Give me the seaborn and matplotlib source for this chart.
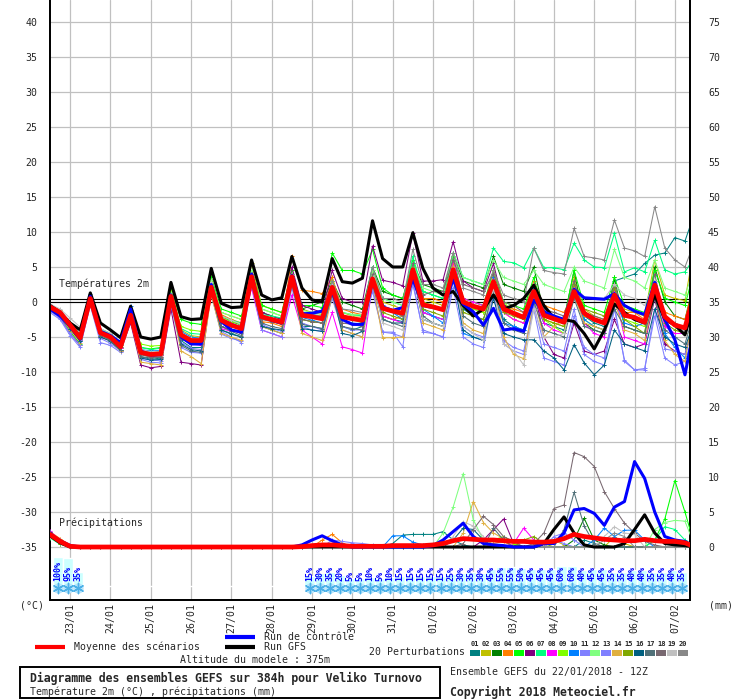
import numpy as np
import pandas as pd
import matplotlib
matplotlib.use('Agg')
import matplotlib.pyplot as plt
import seaborn as sns
from matplotlib.patches import Rectangle

# échéances toutes les 6h, de 0 à 384h (run du 22/01/2018 12Z)
heures = list(range(0, 385, 6))
jours = ['23/01', '24/01', '25/01', '26/01', '27/01', '28/01', '29/01', '30/01',
         '31/01', '01/02', '02/02', '03/02', '04/02', '05/02', '06/02', '07/02']

# --- températures 2m (°C) ---
temp_moy = [-0.7,-1.5,-3.3,-5.1, 0.5,-4.4,-5.0,-6.4, -1.9,-7.2,-7.5,-7.4, 0.8,-4.7,-5.5,-5.5,
            2.1,-2.6,-3.3,-3.8, 3.6,-2.1,-2.5,-2.9, 3.6,-1.9,-2.1,-2.4, 2.1,-2.1,-2.4,-2.6,
            3.3,-0.9,-1.3,-1.6, 4.6,-0.4,-0.7,-1.1, 4.6,0.0,-0.6,-1.0, 2.9,-1.0,-1.6,-2.2,
            1.5,-1.9,-2.4,-2.9, 1.5,-1.6,-2.5,-3.0, 1.0,-1.9,-2.2,-2.9, 2.4,-2.1,-3.3,-3.7, 1.7]
temp_ctrl = [-1.0,-2.0,-3.5,-5.3, 0.8,-4.2,-4.8,-5.8, -1.0,-7.0,-7.6,-7.5, 1.0,-5.0,-6.0,-6.0,
             2.5,-2.8,-4.0,-4.3, 4.0,-2.0,-2.6,-3.0, 3.8,-1.7,-1.6,-1.3, 1.5,-2.5,-3.2,-3.2,
             3.0,-0.7,-1.2,-0.8, 3.3,-0.5,-0.8,-1.0, 3.3,-0.3,-1.4,-3.3, -0.9,-4.0,-3.8,-4.2,
             0.3,-1.4,-2.0,-2.5, 1.8,0.6,0.5,0.4, 1.2,-0.5,-1.3,-1.8, 2.8,-2.5,-5.4,-10.4, -3.0]
temp_gfs = [-0.5,-1.5,-3.0,-4.0, 1.3,-3.0,-4.0,-5.1, -0.6,-5.0,-5.3,-5.0, 2.8,-2.1,-2.5,-2.4,
            4.8,-0.2,-0.8,-0.7, 6.0,1.0,0.3,0.6, 6.5,2.0,0.3,0.0, 6.2,2.9,2.7,3.4,
            11.6,6.2,5.0,5.0, 9.9,4.8,2.0,1.0, 1.5,-0.5,-2.0,-1.0, 1.0,-1.0,-0.5,0.5,
            2.4,-0.5,-2.3,-2.5, -2.8,-4.5,-6.7,-4.0, -0.3,-1.5,-2.5,-3.0, 1.0,-2.5,-3.3,-4.7, 0.3]

temp_p01 = [-0.9,-1.9,-3.8,-5.6, 0.8,-4.9,-5.5,-6.9, -1.5,-7.8,-8.2,-8.0, 0.5,-5.5,-6.5,-6.5, 1.5,-4.0,-4.5,-5.0, 3.0,-3.5,-4.0,-4.5, 3.0,-3.5,-3.5,-3.8, 1.5,-3.5,-4.0,-3.5, 2.5,-2.0,-2.5,-2.8, 4.0,-1.5,-2.0,-2.5, 4.0,-1.0,-2.0,-2.5, 2.0,-2.5,-3.5,-4.0, 0.5,-3.0,-3.5,-4.0, 1.0,-2.0,-3.0,-3.5, 3.0,3.5,4.0,5.5, 6.7,7.0,9.2,8.7, 12.9]
temp_p02 = [-0.5,-1.2,-3.0,-4.8, 0.2,-4.0,-4.6,-6.0, -2.5,-6.8,-7.2,-7.0, 1.5,-4.0,-4.8,-5.0, 3.0,-1.5,-2.0,-2.5, 5.5,-0.5,-1.0,-1.5, 4.5,-1.0,-1.5,-1.8, 3.5,-1.5,-2.0,-2.0, 4.5,0.0,-0.5,-1.0, 5.5,0.5,0.0,-0.5, 5.0,0.5,0.0,-0.5, 3.5,-1.5,-2.5,-3.0, 2.0,-2.5,-3.0,-3.5, 3.5,-1.0,-2.0,-2.5, 2.0,-1.0,-1.5,-2.0, 6.0,1.0,0.5,0.2, 8.5]
temp_p03 = [-0.8,-1.8,-3.6,-5.4, 0.6,-4.6,-5.2,-6.6, -1.6,-7.5,-7.8,-7.6, 1.0,-5.0,-5.8,-5.8, 2.5,-2.0,-2.8,-3.3, 4.0,-1.5,-2.0,-2.5, 4.0,-1.0,-0.5,0.0, 3.0,0.0,-0.5,-1.0, 5.0,1.5,1.0,0.5, 5.5,2.5,2.0,1.5, 7.0,3.0,2.5,2.0, 6.5,2.5,2.0,1.5, 5.0,-1.5,-2.0,-2.5, 4.5,-3.0,-4.0,-4.5, 3.5,-3.5,-4.0,-4.5, 5.0,0.0,-2.0,-2.5, 3.5]
temp_p04 = [-0.4,-1.2,-3.2,-5.0, 0.4,-4.3,-4.9,-6.2, -1.7,-7.0,-7.3,-7.2, 1.2,-4.5,-5.2,-5.2, 3.5,-1.8,-2.5,-3.0, 4.5,-2.8,-3.0,-3.5, 6.6,1.7,1.5,1.2, 3.5,-1.0,-1.5,-1.8, 3.5,-2.0,-2.5,-2.0, 4.5,0.5,0.5,0.0, 5.5,0.5,-1.0,-1.5, 3.5,-0.5,-1.0,-1.5, 3.0,-0.5,-1.0,-1.5, 1.5,-2.0,-2.5,-3.0, 0.5,-1.5,-1.5,-2.5, 2.0,-1.5,-2.0,-2.5, 3.0]
temp_p05 = [-1.0,-2.0,-4.2,-6.0, 0.6,-4.0,-4.6,-6.0, -1.6,-6.5,-6.7,-6.5, 1.8,-2.5,-3.0,-3.2, 3.5,-1.0,-1.5,-2.0, 4.5,-0.5,-1.0,-1.5, 4.5,-0.5,-0.5,-0.8, 7.0,4.5,4.5,4.0, 7.5,2.0,1.0,0.5, 6.0,1.5,1.0,0.5, 6.5,0.5,0.0,-0.5, 4.5,0.0,-0.5,-1.0, 3.5,-1.5,-2.0,-2.5, 4.5,-0.5,-1.0,-1.5, 3.5,-0.5,-1.0,-1.5, 4.5,0.5,0.0,-0.5, 5.0]
temp_p06 = [-1.2,-2.2,-4.5,-6.2, 0.0,-5.0,-5.5,-7.0, -3.0,-9.0,-9.4,-9.2, -1.0,-8.6,-8.8,-9.0, 1.5,-3.5,-4.0,-4.5, 4.0,-1.5,-2.0,-2.5, 5.0,-0.5,-1.0,-1.5, 4.5,0.5,0.0,0.0, 8.0,3.1,2.8,2.3, 9.8,3.0,3.0,3.2, 8.6,3.0,2.0,1.5, 5.5,-0.5,-1.5,-2.5, 2.0,-5.0,-7.5,-8.0, -3.0,-7.0,-7.5,-7.0, -2.5,-6.0,-6.5,-6.0, 0.5,-6.0,-7.0,-7.5, -2.0]
temp_p07 = [-0.6,-1.4,-3.0,-4.6, 0.8,-3.8,-4.5,-5.8, -1.5,-6.5,-6.8,-6.6, 1.5,-3.8,-4.5,-4.6, 3.0,-2.0,-2.6,-3.0, 4.0,-1.8,-2.0,-2.3, 4.0,-1.5,-1.8,-2.0, 3.0,-1.5,-1.8,-2.0, 5.0,0.5,0.0,-0.5, 6.5,1.5,1.0,0.5, 7.0,3.5,3.0,2.5, 7.7,5.8,5.6,4.9, 7.7,4.9,4.9,4.6, 8.4,6.0,5.0,4.9, 9.8,4.3,4.9,4.3, 8.8,4.6,4.0,4.3, 6.5]
temp_p08 = [-0.9,-1.7,-3.6,-5.4, 0.4,-4.6,-5.2,-6.6, -2.0,-7.4,-7.7,-7.6, 0.5,-5.2,-6.0,-6.2, 1.5,-3.8,-4.2,-4.2, 2.0,-4.0,-4.5,-5.0, 1.0,-4.0,-5.0,-6.0, -1.5,-6.4,-6.8,-7.3, 2.5,-2.0,-2.5,-3.0, 4.0,-1.5,-2.0,-2.5, 6.0,0.5,0.0,-0.5, 3.5,-1.5,-2.5,-3.0, 1.0,-3.0,-4.0,-4.5, 2.0,-3.0,-4.5,-5.0, 1.5,-5.0,-5.5,-6.0, 2.0,-3.5,-4.5,-4.5, 2.5]
temp_p09 = [-0.5,-1.3,-3.2,-4.9, 0.6,-4.2,-4.8,-6.2, -1.8,-6.0,-6.3,-6.2, 1.5,-3.5,-4.0,-4.2, 3.0,-2.2,-2.8,-3.2, 4.5,-1.0,-1.5,-2.0, 4.0,-2.5,-2.8,-3.0, 2.5,-2.0,-2.5,-3.0, 4.0,-1.0,-1.5,-2.0, 5.0,0.0,-0.5,-1.0, 5.0,-0.5,-1.0,-1.5, 4.5,0.0,-1.5,-2.5, 2.0,-2.5,-3.5,-4.5, 3.0,-2.5,-3.5,-4.0, 2.5,-2.5,-3.0,-3.5, 3.0,-2.0,-3.5,-4.5, 1.5]
temp_p10 = [-0.6,-1.4,-3.1,-4.8, 1.2,-4.0,-4.6,-5.8, -0.6,-6.8,-7.0,-6.9, 1.0,-4.2,-5.0,-5.2, 2.5,-2.4,-3.0,-3.6, 3.5,-2.3,-2.8,-3.2, 3.5,-2.2,-2.6,-3.0, 2.0,-2.6,-3.0,-3.2, 3.5,-0.5,-1.5,-2.5, 4.0,-1.0,-2.0,-3.0, 4.0,-4.5,-5.0,-5.5, 3.5,-3.0,-3.5,-4.0, 2.0,-1.0,-2.0,-3.0, 1.0,-2.5,-3.5,-4.0, 0.5,-3.0,-3.5,-3.0, 1.5,-4.5,-6.5,-8.0, -1.5]
temp_p11 = [-1.3,-2.3,-4.5,-6.2, -0.5,-5.8,-6.2,-7.2, -2.5,-8.0,-8.3,-8.4, -0.5,-6.5,-7.2,-7.3, 1.0,-4.2,-5.0,-5.8, 2.5,-4.0,-4.5,-5.0, 2.0,-3.5,-4.0,-4.2, 0.5,-4.0,-4.5,-5.0, 2.0,-4.3,-4.3,-6.4, 3.0,-4.3,-4.5,-5.0, 2.0,-5.0,-6.0,-6.5, 1.0,-6.0,-7.0,-7.5, -1.0,-8.0,-8.5,-9.0, -2.0,-6.5,-7.5,-8.0, -0.5,-8.5,-9.7,-9.5, -2.0,-8.0,-9.0,-8.5, -4.0]
temp_p12 = [-0.7,-1.6,-3.5,-5.3, 0.7,-4.0,-4.8,-6.0, -1.2,-7.0,-7.4,-7.3, 1.3,-4.5,-5.2,-5.3, 3.2,-1.5,-2.0,-2.5, 4.5,-1.0,-1.5,-2.0, 4.0,-1.2,-1.5,-1.6, 3.0,-1.5,-1.8,-1.8, 4.5,0.5,0.0,-0.5, 5.5,2.0,1.5,1.0, 7.0,3.5,3.0,2.5, 6.0,3.5,3.0,2.5, 4.5,2.5,2.0,1.5, 5.0,3.0,2.5,2.0, 7.5,3.5,3.0,2.0, 6.0,2.0,1.5,1.0, 5.0]
temp_p13 = [-1.5,-2.5,-4.8,-6.5, -0.3,-5.2,-5.9,-7.0, -2.3,-8.2,-8.6,-8.7, 0.0,-5.8,-6.6,-6.8, 1.2,-4.6,-5.2,-5.6, 2.8,-3.2,-3.8,-4.2, 2.5,-3.0,-3.5,-4.0, 1.0,-3.5,-4.0,-4.0, 1.5,-4.3,-4.5,-5.0, 2.5,-4.0,-4.5,-5.0, 3.0,-3.5,-4.5,-5.0, 1.5,-5.5,-6.5,-7.0, -0.5,-6.0,-6.5,-7.0, -1.0,-7.5,-8.5,-9.0, -1.0,-8.3,-9.7,-9.7, -1.0,-6.7,-7.0,-7.5, -3.0]
temp_p14 = [-1.1,-2.0,-4.0,-5.8, -0.2,-4.8,-5.6,-7.0, -2.5,-8.6,-8.8,-9.0, 0.3,-7.0,-7.8,-8.8, 1.0,-4.5,-5.0,-5.5, 3.0,-3.5,-4.0,-4.5, 3.0,-4.5,-5.0,-5.5, 1.0,-4.0,-4.5,-5.0, 3.0,-5.1,-5.1,-5.0, 4.5,-3.0,-3.5,-4.0, 5.0,-3.0,-4.0,-4.5, 3.0,-5.0,-7.5,-8.1, 0.5,-5.0,-3.5,-2.5, 1.0,-3.0,-3.5,-4.0, 0.0,-4.0,-4.5,-5.5, 1.0,-5.5,-7.5,-8.5, 0.0]
temp_p15 = [-0.8,-1.6,-3.4,-5.2, 0.4,-4.4,-5.0,-6.4, -2.0,-7.3,-7.6,-7.5, 0.6,-4.8,-5.6,-5.6, 2.0,-2.9,-3.5,-4.0, 3.5,-2.0,-2.5,-3.0, 3.5,-2.5,-2.8,-3.0, 2.0,-2.3,-2.5,-2.8, 3.5,-1.5,-2.0,-2.5, 4.5,-1.0,-1.5,-2.0, 4.5,-1.5,-2.0,-2.5, 2.5,-1.5,-2.0,-2.5, 1.5,-2.5,-3.0,-3.5, 2.5,-1.0,-1.5,-2.0, 2.0,-2.5,-3.5,-4.5, 3.0,-3.0,-4.0,-4.5, 2.0]
temp_p16 = [-1.0,-1.9,-3.8,-5.6, 0.3,-5.0,-5.6,-6.9, -2.2,-8.0,-8.3,-8.2, 0.2,-6.0,-6.8,-7.0, 1.5,-4.0,-4.6,-5.0, 3.0,-3.5,-3.8,-4.0, 3.0,-3.8,-4.0,-4.2, 1.5,-4.5,-4.8,-4.2, 3.0,-2.5,-3.0,-3.0, 4.0,-2.5,-3.0,-3.5, 3.5,-4.0,-5.0,-5.5, 0.5,-4.5,-5.0,-5.4, -5.4,-7.0,-8.0,-9.7, -6.1,-8.7,-10.4,-9.0, -4.0,-6.0,-6.5,-7.0, -1.0,-5.0,-6.0,-6.5, -2.5]
temp_p17 = [-0.8,-1.7,-3.5,-5.3, 0.2,-4.8,-5.4,-6.8, -2.2,-7.8,-8.0,-7.9, 0.0,-6.2,-7.0,-7.2, 1.5,-3.5,-4.2,-4.8, 2.5,-3.0,-3.5,-3.8, 2.5,-3.2,-3.5,-3.8, 1.0,-3.5,-3.8,-4.0, 2.5,-2.5,-3.0,-3.5, 3.5,-2.0,-3.0,-3.5, 3.5,-2.0,-3.0,-3.5, 1.5,-3.0,-4.0,-4.5, 0.0,-4.0,-4.5,-5.0, 0.5,-3.5,-4.0,-4.5, -1.0,-3.5,-4.0,-4.5, 0.5,-4.0,-5.0,-6.0, -1.0]
temp_p18 = [-0.6,-1.5,-3.4,-5.1, 0.5,-4.5,-5.1,-6.5, -1.9,-7.5,-7.9,-7.8, 0.7,-5.2,-6.0,-6.0, 2.5,-2.8,-3.4,-3.8, 4.0,-2.5,-2.8,-3.2, 3.5,-2.5,-2.8,-3.0, 2.5,-3.0,-3.2,-3.5, 4.0,-1.0,-1.5,-2.0, 5.5,1.0,1.5,1.5, 6.0,2.5,2.0,1.5, 4.0,0.0,-0.5,-1.5, 2.5,-1.0,-1.5,-2.0, 3.0,-1.5,-2.0,-2.5, 2.5,-2.0,-2.5,-3.0, 4.0,-2.5,-3.0,-4.0, 3.0]
temp_p19 = [-0.3,-1.0,-2.3,-3.6, 0.9,-3.8,-4.5,-5.8, -1.2,-6.8,-7.1,-7.0, 1.0,-4.4,-5.2,-5.3, 2.8,-2.0,-2.6,-3.2, 3.8,-2.0,-2.4,-2.8, 3.8,-1.8,-2.0,-2.2, 2.5,-2.0,-2.2,-2.5, 3.5,-3.0,-3.5,-4.0, 4.5,-2.5,-3.0,-3.5, 4.5,-3.5,-4.5,-5.5, 2.0,-6.0,-7.0,-9.0, -1.0,-5.0,-5.0,-4.5, 1.5,0.5,0.5,0.5, 2.5,1.0,0.5,-0.5, 3.0,-2.5,-3.5,-4.0, 2.0]
temp_p20 = [-0.7,-1.5,-3.3,-5.0, 0.6,-4.2,-4.8,-6.2, -1.7,-7.0,-7.3,-7.2, 1.0,-4.8,-5.6,-5.8, 2.2,-2.6,-3.2,-3.6, 4.0,-2.0,-2.3,-2.6, 4.0,-1.5,-1.8,-2.0, 3.0,-1.0,-1.2,-1.5, 5.0,0.5,0.5,0.0, 7.5,2.5,2.5,2.0, 7.0,2.0,1.5,1.0, 4.5,1.0,0.5,0.0, 7.7,4.5,4.2,4.0, 10.5,6.5,6.3,6.0, 11.7,7.7,7.3,6.5, 13.6,7.7,6.0,5.0, 8.8]

# --- précipitations (mm) ---
pluie_moy = [1.8,0.8,0.1,0,0,0,0,0,0,0,0,0,0, 0,0,0,0,0,0,0,0,0,0,0,0,0.05,
             0.2,0.3,0.3,0.2,0.1,0.1,0.1,0.1,0.2,0.2,0.2,0.2,0.3, 0.5,0.9,1.2,1.1,1.0,1.0,0.9,0.8,0.8,0.7,0.7,0.8,1.2,
             1.8,1.5,1.3,1.1,1.0,0.9,0.9,1.1,0.9,0.8,0.8,0.6,0]
pluie_ctrl = [1.9,0.9,0.2,0,0,0,0,0,0,0,0,0,0, 0,0,0,0,0,0,0,0,0,0,0,0,0.3,
              1.0,1.6,0.9,0.3,0,0,0,0,0,0,0,0,0.2, 1.0,2.2,3.4,1.5,0.5,0.3,0.2,0,0,0,0.5,0.5,2.0,
              5.3,5.5,4.8,3.1,5.7,6.5,12.2,9.8,5.0,1.5,1.0,0.8,0]
pluie_gfs = [1.6,0.6,0,0,0,0,0,0,0,0,0,0,0, 0,0,0,0,0,0,0,0,0,0,0,0,0,
             0,0,0,0,0,0,0,0,0,0,0,0,0, 0,0,0,0,0,0,0,0,0,0,0.5,2.5,4.3,
             2.0,0.3,0,0,0,0.5,2.5,4.6,2.0,0.5,0.3,0.2,0]

pluie_p01 = [2.0,0.9,0.1,0,0,0,0,0,0,0,0,0,0, 0,0,0,0,0,0,0,0,0,0,0,0,0, 0,0,0,0,0,0,0,0,0.5,1.7,1.8,1.8,1.8, 2.2,1.0,0.3,0,0,0,0,0,0,0,0,0,0, 0,1.0,0.5,0,0,0,0,0,0,0,0,0,0]
pluie_p02 = [1.7,0.7,0,0,0,0,0,0,0,0,0,0,0, 0,0,0,0,0,0,0,0,0,0,0,0,0, 0,0,0,0,0,0,0,0,0,0,0,0,0, 0,0,0,0,0,0,0,0,0,0,0,1.0,0.3, 0,0,0,0,1.5,0.5,0,0,0,0,0,0,0]
pluie_p03 = [1.5,0.6,0.1,0,0,0,0,0,0,0,0,0,0, 0,0,0,0,0,0,0,0,0,0,0,0,0, 0,0,0,0,0,0,0,0,0,0,0,0,0, 0,0,0,0,0,0,0,0,0,0,0,0,0, 1.0,4.1,1.0,0.3,0,0,0,0,0,0,0,0,0]
pluie_p04 = [2.2,1.2,0.2,0,0,0,0,0,0,0,0,0,0, 0,0,0,0,0,0,0,0,0,0,0,0,0, 0,1.0,1.8,0.6,0,0,0,0,0,0,0,0,0, 0,0,0,0,0,0.5,0.8,0,0,0,0,0,0, 0,0,0,0,0,0,0,0,0,0,0,0,0]
pluie_p05 = [1.9,0.8,0,0,0,0,0,0,0,0,0,0,0, 0,0,0,0,0,0,0,0,0,0,0,0,0, 0,0,0,0,0,0,0,0,0,0,0,0,0, 0,0,0,0,0,0,0,0,0,0,0,0,0, 0,0,0,0,0,0,0,0,1.0,4.0,9.5,5.0,0]
pluie_p06 = [1.6,0.7,0,0,0,0,0,0,0,0,0,0,0, 0,0,0,0,0,0,0,0,0,0,0,0,0, 0,0,0,0,0,0,0,0,0,0,0,0,0, 0,0,0,0,1.0,2.5,4.0,0.5,0,0,0,0,0, 0,0,0,0,0,0,0,0,0,0,0,0,0]
pluie_p07 = [1.3,0.4,0,0,0,0,0,0,0,0,0,0,0, 0,0,0,0,0,0,0,0,0,0,0,0,0, 0,0,0,0,0,0,0,0,0,0,0,0,0, 0,0,0,0,0,0,0,0,0,0,0,0,0, 0,0,0,0,0,0,0,0,1.0,2.9,2.5,1.0,0]
pluie_p08 = [2.3,0.9,0.2,0,0,0,0,0,0,0,0,0,0, 0,0,0,0,0,0,0,0,0,0,0,0,0, 0,0,0,0,0,0,0,0,0,0,0,0,0, 0,0,0,0,0,0,0,0.5,2.7,1.0,0,0,0, 0,0,0,0,0,0,0,0,0,0,0,0,0]
pluie_p09 = [1.8,0.7,0,0,0,0,0,0,0,0,0,0,0, 0,0,0,0,0,0,0,0,0,0,0,0,0, 0,0,0,0,0,0,0,0,0,0,0,0,0, 0,0,0,0,0,1.0,1.5,0.5,0,0,0,0,0, 0,0,0,0,0,0,0,0,0,0,0,0,0]
pluie_p10 = [2.0,0.8,0.1,0,0,0,0,0,0,0,0,0,0, 0,0,0,0,0,0,0,0,0,0,0,0,0, 0,0,0,0,0,0,0,0,1.6,1.6,0.7,0.3,0, 0,0,0,0,0,0,0,0,0,0,0,0,0, 0,0,1.0,2.7,1.5,2.4,2.4,1.0,0,0,0,0,0]
pluie_p11 = [1.7,1.0,0.3,0,0,0,0,0,0,0,0,0,0, 0,0,0,0,0,0,0,0,0,0,0,0,0, 0,0,1.0,0.8,0.6,0.5,0.3,0,0,0,0,0,0, 0,0,0,0,0,0,0,0,0,0,0,1.0,0.5, 0,0,0,0,0,0,0,0,0,0,0,0,0]
pluie_p12 = [1.4,0.5,0,0,0,0,0,0,0,0,0,0,0, 0,0,0,0,0,0,0,0,0,0,0,0,0, 0,0,0,0,0,0,0,0,0,0,0,0,0, 2.0,5.7,10.5,3.9,1.0,0,0,0,0,0,0,0,0, 0,0,0,0,0,0,0,0,2.5,3.5,3.8,3.7,0]
pluie_p13 = [1.9,0.8,0,0,0,0,0,0,0,0,0,0,0, 0,0,0,0,0,0,0,0,0,0,0,0,0, 0,0,0,0,0,0,0,0,0,0,0,0,0, 0,0,0,0,0,0,0,0,0,0,0,1.5,2.0, 1.0,0,0,0,0,0,0,0,0,0,0,0,0]
pluie_p14 = [1.6,0.6,0,0,0,0,0,0,0,0,0,0,0, 0,0,0,0,0,0,0,0,0,0,0,0,0, 0,0,0,0,0,0,0,0,0,0,0,0,0, 0,0,2.0,6.5,3.5,2.0,1.2,0,0,0,0,0,0, 0,0,0,0,0,0,0,0,0,0,0,0,0]
pluie_p15 = [1.5,0.5,0,0,0,0,0,0,0,0,0,0,0, 0,0,0,0,0,0,0,0,0,0,0,0,0, 0,0,0,0,0,0,0,0,0,0,0,0,0, 0,0,0,0,0,0,0,0,1.0,1.5,0.5,0,0, 0,0,0,0,0,0,0,0,0,0,0,0,0]
pluie_p16 = [2.1,0.9,0,0,0,0,0,0,0,0,0,0,0, 0,0,0,0,0,0,0,0,0,0,0,0,0, 0,0,0,0,0,0,0,0,0,0,0,0,0, 0,1.0,2.7,2.5,1.0,0,0,0,0,0,0,0,0, 0,0,0,0,0,0,0,0,0,0,0,0,0]
pluie_p17 = [1.8,0.6,0,0,0,0,0,0,0,0,0,0,0, 0,0,0,0,0,0,0,0,0,0,0,0,0, 0,0,0,0,0,0,0,0,0,0,0,0,0, 0,0,0,0,0,2.7,1.0,0,0,0,0,0,2.5, 7.8,3.0,0.5,0,0,0,0,0,0,0,0,0,0]
pluie_p18 = [1.7,0.7,0,0,0,0,0,0,0,0,0,0,0, 0,0,0,0,0,0,0,0,0,0,0,0,0, 0,0,0,0,0,0,0,0,0,0,0,0,0, 0,0,0.5,2.5,4.4,3.2,1.5,0.8,0,0.5,2.0,5.5,6.0, 13.5,12.9,11.5,7.9,5.5,3.4,2.0,0.8,0.3,0,0,0,0]
pluie_p19 = [1.5,0.6,0,0,0,0,0,0,0,0,0,0,0, 0,0,0,0,0,0,0,0,0,0,0,0,0, 0,0,0,0,0,0,0,0,0,0,0,0,0, 0,1.5,3.6,3.0,1.5,0,0,0,0,0,0,0,0, 0,0,0,1.5,2.9,2.0,1.8,0,0,0,0,0,0]
pluie_p20 = [2.0,0.8,0,0,0,0,0,0,0,0,0,0,0, 0,0,0,0,0,0,0,0,0,0,0,0,0, 0,0,0,0,0,0,0,0,0,0,0,0,0, 0,0,0,0,0,0,0,0,0,0,0,0,0, 0,0,0,1.0,2.0,1.5,0,0,0,0,0,0,0]

# probabilité de neige par tranche de 6h (%)
proba_neige = [100, 95, 35] + [0] * 22 + [
    15, 30, 35, 20, 5, 5, 10, 5, 10, 15, 15, 15, 15, 15, 25, 30, 35, 30, 45, 55,
    55, 50, 45, 45, 45, 60, 60, 40, 45, 45, 35, 35, 40, 40, 35, 35, 40, 35]

couleurs = ['#008080', '#c0c000', '#008000', '#ff8000', '#00ff00', '#800080', '#00ff80',
            '#ff00ff', '#80ff00', '#0080ff', '#8080ff', '#80ff80', '#8080ff', '#e0b040',
            '#80a800', '#006080', '#507078', '#786870', '#c0c0c0', '#888888']

temp_perts = [temp_p01, temp_p02, temp_p03, temp_p04, temp_p05, temp_p06, temp_p07, temp_p08,
              temp_p09, temp_p10, temp_p11, temp_p12, temp_p13, temp_p14, temp_p15, temp_p16,
              temp_p17, temp_p18, temp_p19, temp_p20]
pluie_perts = [pluie_p01, pluie_p02, pluie_p03, pluie_p04, pluie_p05, pluie_p06, pluie_p07, pluie_p08,
               pluie_p09, pluie_p10, pluie_p11, pluie_p12, pluie_p13, pluie_p14, pluie_p15, pluie_p16,
               pluie_p17, pluie_p18, pluie_p19, pluie_p20]

sns.set_style('white')
plt.rcParams['font.family'] = ['DejaVu Sans Mono', 'DejaVu Sans']
FS = 7.1

fig = plt.figure(figsize=(7.4, 7.0), dpi=100)
ax = fig.add_axes([50/740, 100/700, 640/740, 600/700])
ax.set_xlim(0, 381)
ax.set_ylim(-42.57, 43.14)
ax2 = ax.twinx()
ax2.set_ylim(-7.57, 78.14)   # 0 mm au niveau de -35°C

# grille
ax.set_xticks(range(12, 372 + 1, 24))
ax.set_xticklabels(jours, rotation=90, fontsize=FS)
ax.set_yticks(range(-35, 41, 5))
ax.set_yticklabels([str(v) for v in range(-35, 41, 5)], fontsize=FS)
ax.grid(True, color='#c0c0c0', lw=0.9)
ax.tick_params(axis='x', length=0, pad=2)
ax.tick_params(axis='y', length=0, pad=9)
ax2.set_yticks(range(0, 76, 5))
ax2.set_yticklabels([str(v) for v in range(0, 76, 5)], fontsize=FS)
ax2.tick_params(axis='y', length=0, pad=13)
for a in (ax, ax2):
    a.spines['top'].set_visible(False)
    for s in ('left', 'right', 'bottom'):
        a.spines[s].set_color('black')
        a.spines[s].set_linewidth(1.3)
    a.set_xlabel('')
    a.set_ylabel('')

# ligne 0°C double
ax.axhline(0, color='black', lw=0.8, zorder=2)
ax.axhline(0.45, color='black', lw=0.8, zorder=2)

# perturbations
for serie, pluie, coul in zip(temp_perts, pluie_perts, couleurs):
    sns.lineplot(x=heures, y=serie, ax=ax, color=coul, lw=0.75, marker='+', ms=3,
                 mew=0.7, mec=coul, estimator=None, zorder=3)
    sns.lineplot(x=heures, y=pluie, ax=ax2, color=coul, lw=0.75, marker='+', ms=3,
                 mew=0.7, mec=coul, estimator=None, zorder=3)

# run GFS, contrôle, moyenne
for serie, pluie, coul, ep in [(temp_gfs, pluie_gfs, '#000000', 2.2),
                               (temp_ctrl, pluie_ctrl, '#0000ff', 2.2),
                               (temp_moy, pluie_moy, '#ff0000', 3.4)]:
    sns.lineplot(x=heures, y=serie, ax=ax, color=coul, lw=ep, estimator=None, zorder=4)
    sns.lineplot(x=heures, y=pluie, ax=ax2, color=coul, lw=ep, estimator=None, zorder=4)

ax.text(5.4, 2.6, 'Températures 2m', fontsize=FS, va='center', ha='left', zorder=5)
ax.text(5.4, -31.6, 'Précipitations', fontsize=FS, va='center', ha='left', zorder=5)

# probabilités de neige
h_neige = [6 * k + 4.5 for k in range(len(proba_neige))]
hauteur = [0.99 + 0.0316 * p if p > 0 else 0 for p in proba_neige]
ax.bar(h_neige, hauteur, width=6, bottom=-40.6, color='#ccffff', zorder=1.5)
h_flocon = [h for h, p in zip(h_neige, proba_neige) if p > 0]
ax.scatter(h_flocon, [-40.9] * len(h_flocon), marker='o', s=55, color='#b8e4fa', zorder=2.5, lw=0)
ax.scatter(h_flocon, [-40.9] * len(h_flocon), marker=(6, 2, 0), s=55, color='#4ab0e8', lw=1.0, zorder=2.6)
for h, p in zip(h_neige, proba_neige):
    if p > 0:
        ax.text(h, -39.8, f'{p}%', rotation=90, ha='center', va='bottom', color='#0000ff',
                fontsize=6, fontweight='bold', zorder=5)

# zone de légende (coordonnées en pixels)
ov = fig.add_axes([0, 0, 1, 1])
ov.set_xlim(0, 740)
ov.set_ylim(700, 0)
ov.axis('off')
ov.patch.set_alpha(0)

ov.text(20, 605, '(°C)', fontsize=FS, va='center')
ov.text(709, 605, '(mm)', fontsize=FS, va='center')

ov.plot([35, 65], [647, 647], color='#ff0000', lw=3.0, solid_capstyle='butt')
ov.text(74, 647, 'Moyenne des scénarios', fontsize=FS, va='center')
ov.plot([225, 255], [636.5, 636.5], color='#0000ff', lw=3.0, solid_capstyle='butt')
ov.text(264, 637, 'Run de contrôle', fontsize=FS, va='center')
ov.plot([225, 255], [647, 647], color='#000000', lw=3.0, solid_capstyle='butt')
ov.text(264, 647, 'Run GFS', fontsize=FS, va='center')
ov.text(180, 660, 'Altitude du modele : 375m', fontsize=FS, va='center')

ov.text(369, 652, '20 Perturbations', fontsize=FS, va='center')
for i, coul in enumerate(couleurs):
    x0 = 470 + i * 10.95
    ov.add_patch(Rectangle((x0, 650), 10, 6, color=coul, lw=0))
    ov.text(x0 + 5, 644, f'{i + 1:02d}', fontsize=5.0, fontweight='bold', ha='center', va='center')

ov.add_patch(Rectangle((20, 667), 420, 31, fill=False, ec='black', lw=1.4))
ov.text(30, 678, 'Diagramme des ensembles GEFS sur 384h pour Veliko Turnovo',
        fontsize=8.3, fontweight='bold', va='center')
ov.text(30, 692, 'Température 2m (°C) , précipitations (mm)', fontsize=FS, va='center')
ov.text(450, 672, 'Ensemble GEFS du 22/01/2018 - 12Z', fontsize=FS, va='center')
ov.text(450, 692, 'Copyright 2018 Meteociel.fr', fontsize=8.3, fontweight='bold', va='center')

fig.savefig('out.png', dpi=100)
